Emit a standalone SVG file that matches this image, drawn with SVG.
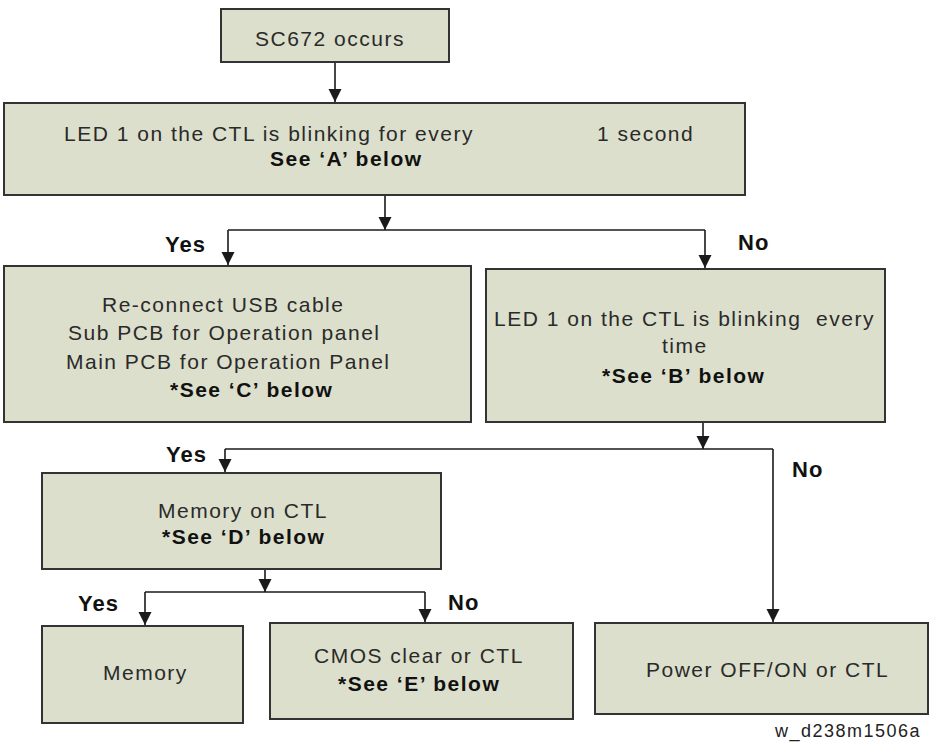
<svg xmlns="http://www.w3.org/2000/svg" width="929" height="743" viewBox="0 0 929 743">
<defs>
<marker id="ah" markerUnits="userSpaceOnUse" markerWidth="14" markerHeight="14" refX="13" refY="6.5" orient="auto">
<path d="M0,0 L13,6.5 L0,13 z" fill="#1a1a1a"/>
</marker>
<style>
.box{fill:#dcdfcb;stroke:#333;stroke-width:2}
.t{font-family:"Liberation Sans",Arial,sans-serif;font-size:21px;fill:#2a2a2a;letter-spacing:1.5px}
.b{font-family:"Liberation Sans",Arial,sans-serif;font-size:21px;font-weight:bold;fill:#111;letter-spacing:1.5px}
.lab{font-family:"Liberation Sans",Arial,sans-serif;font-size:22px;font-weight:bold;fill:#111;letter-spacing:1px}
.cap{font-family:"Liberation Sans",Arial,sans-serif;font-size:18px;fill:#222;letter-spacing:1.5px}
.c{fill:none;stroke:#1a1a1a;stroke-width:1.6}
.ca{fill:none;stroke:#1a1a1a;stroke-width:1.6;marker-end:url(#ah)}
</style>
</defs>
<rect width="929" height="743" fill="#fff"/>
<g id="connectors">
<path class="ca" d="M335,62 V102"/>
<path class="ca" d="M385,195 V230"/>
<path class="c" d="M228,230 H705"/>
<path class="ca" d="M228,230 V265"/>
<path class="ca" d="M705,230 V268"/>
<path class="ca" d="M703,422 V449"/>
<path class="c" d="M225,449 H773"/>
<path class="ca" d="M225,449 V472"/>
<path class="ca" d="M773,449 V622"/>
<path class="ca" d="M265,569 V592"/>
<path class="c" d="M145,592 H425"/>
<path class="ca" d="M145,592 V625"/>
<path class="ca" d="M425,592 V622"/>
</g>
<g id="labels">
<text class="lab" x="165" y="252">Yes</text>
<text class="lab" x="738" y="250">No</text>
<text class="lab" x="166" y="462">Yes</text>
<text class="lab" x="792" y="477">No</text>
<text class="lab" x="78" y="611">Yes</text>
<text class="lab" x="448" y="610">No</text>
</g>
<g id="n1">
<rect class="box" x="221" y="9" width="228" height="53"/>
<text class="t" x="255" y="46">SC672 occurs</text>
</g>
<g id="n2">
<rect class="box" x="4" y="103" width="741" height="92"/>
<text class="t" x="64" y="141">LED 1 on the CTL is blinking for every<tspan x="597">1 second</tspan></text>
<text class="b" x="270" y="166">See ‘A’ below</text>
</g>
<g id="n3">
<rect class="box" x="4" y="266" width="467" height="156"/>
<text class="t" x="102" y="312">Re-connect USB cable</text>
<text class="t" x="68" y="340">Sub PCB for Operation panel</text>
<text class="t" x="66" y="369">Main PCB for Operation Panel</text>
<text class="b" x="170" y="397">*See ‘C’ below</text>
</g>
<g id="n4">
<rect class="box" x="486" y="269" width="399" height="153"/>
<text class="t" x="494" y="326" xml:space="preserve">LED 1 on the CTL is blinking  every</text>
<text class="t" x="662" y="353">time</text>
<text class="b" x="602" y="383">*See ‘B’ below</text>
</g>
<g id="n5">
<rect class="box" x="42" y="473" width="399" height="96"/>
<text class="t" x="158" y="518">Memory on CTL</text>
<text class="b" x="162" y="544">*See ‘D’ below</text>
</g>
<g id="n6">
<rect class="box" x="42" y="626" width="201" height="97"/>
<text class="t" x="103" y="680">Memory</text>
</g>
<g id="n7">
<rect class="box" x="270" y="623" width="303" height="96"/>
<text class="t" x="314" y="663">CMOS clear or CTL</text>
<text class="b" x="338" y="691">*See ‘E’ below</text>
</g>
<g id="n8">
<rect class="box" x="595" y="623" width="333" height="91"/>
<text class="t" x="646" y="677">Power OFF/ON or CTL</text>
</g>
<text class="cap" x="775" y="737">w_d238m1506a</text>
</svg>
